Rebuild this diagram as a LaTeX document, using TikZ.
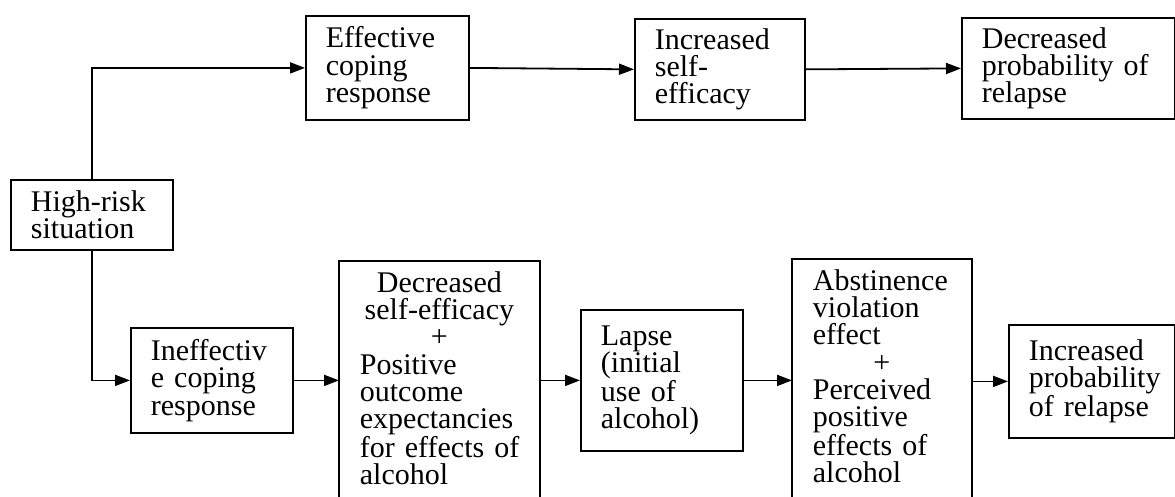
\documentclass[tikz,border=0pt]{standalone}
\usepackage{fontspec}
\setmainfont{Liberation Serif}
\usetikzlibrary{arrows.meta}
\newcommand{\boxfont}{\fontsize{30}{27.3}\selectfont}
\tikzset{
  box/.style={draw, rectangle, line width=1.8pt, inner xsep=20pt, inner ysep=9.5pt,
    align=left, anchor=north west, font=\boxfont},
  tallbox/.style={box, draw=none},
  openbox/.style={line width=1.8pt},
  arr/.style={line width=1.8pt, -{Triangle[length=15pt,width=11pt]}},
}
\newcommand{\ctrline}[1]{\makebox[\hsize][c]{#1}}
\begin{document}
\hyphenpenalty=10000
\exhyphenpenalty=10000
\begin{tikzpicture}[x=1pt,y=-1pt]
\useasboundingbox[fill=white] (0,0) rectangle (1175,496);

\node[box, minimum width=162pt, minimum height=70pt, text width=122pt] (hr) at (10,179)
  {High-risk\\situation};
\node[box, minimum width=163pt, minimum height=104pt, text width=123pt] (eff) at (305,15)
  {Effective\\coping\\response};
\node[box, minimum width=170pt, minimum height=99pt, text width=130pt] (ise) at (634,18)
  {Increased\\self-\\efficacy};
\node[box, minimum width=213pt, minimum height=101pt, text width=173pt] (dpr) at (961,17)
  {Decreased\\probability~of\\relapse};

\node[box, minimum width=162pt, minimum height=105pt, text width=122pt] (ine) at (130,327)
  {Ineffectiv\\e~coping\\response};
\node[tallbox, minimum width=199pt, text width=159pt] (dse) at (339,261)
  {\ctrline{Decreased}\\\ctrline{self-efficacy}\\\ctrline{+}\\Positive\\outcome\\expectancies\\for~effects~of\\alcohol};
\draw[openbox] ([yshift=-40pt]dse.south west) |- (dse.north) -| ([yshift=-40pt]dse.south east);
\node[box, minimum width=162pt, minimum height=141pt, text width=122pt] (lap) at (580,309)
  {Lapse\\(initial\\use~of\\alcohol)};
\node[tallbox, minimum width=178pt, text width=138pt] (abs) at (792,259)
  {Abstinence\\violation\\effect\\\ctrline{+}\\Perceived\\positive\\effects~of\\alcohol};
\draw[openbox] ([yshift=-40pt]abs.south west) |- (abs.north) -| ([yshift=-40pt]abs.south east);
\node[box, minimum width=166pt, minimum height=113pt, text width=126pt] (ipr) at (1008,324)
  {Increased\\probability\\of~relapse};

\draw[arr] (hr.north) |- (eff.west);
\draw[arr] (eff.east) -- (ise.west);
\draw[arr] (ise.east) -- (dpr.west);
\draw[arr] (hr.south) |- (ine.west);
\draw[arr] (ine.east) -- (ine.east -| dse.west);
\draw[arr] (lap.west -| dse.east) -- (lap.west);
\draw[arr] (lap.east) -- (lap.east -| abs.west);
\draw[arr] (ipr.west -| abs.east) -- (ipr.west);
\end{tikzpicture}
\end{document}
